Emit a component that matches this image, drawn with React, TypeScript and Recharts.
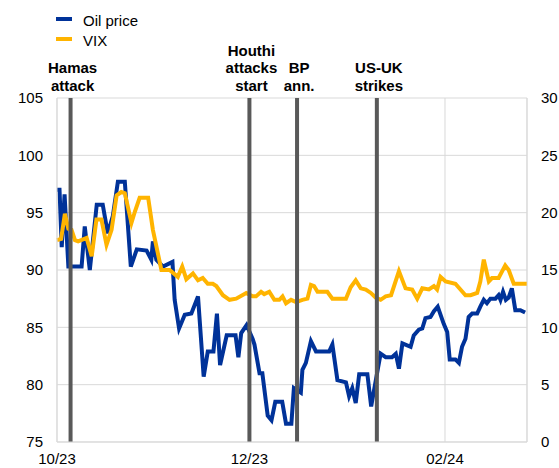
import React from 'react';
import {
  LineChart,
  Line,
  XAxis,
  YAxis,
  CartesianGrid,
  ReferenceLine,
} from 'recharts';

// x values are calendar days counted from 3 Oct 2023 (first date on the axis)
const oilDays = [
  0, 0.8, 1.5, 2.4, 3.6, 7.8, 8.8, 10.4, 12.6, 14.5,
  16.1, 17.7, 19.3, 21.5, 23.4, 25.3, 28.4, 29.9, 30.4, 31.5,
  33.6, 36.6, 37.3, 38.7, 40.5, 42.6, 44.7, 46.5, 47.8, 49.6,
  50.7, 51.7, 53.8, 56.6, 57.5, 58.4, 60.1, 62.0, 62.6, 64.2,
  65.1, 66.8, 68.0, 69.2, 71.4, 72.6, 74.3, 75.1, 77.3, 77.8,
  78.9, 80.5, 82.1, 86.3, 87.3, 88.9, 91.6, 92.6, 93.6, 94.7,
  95.8, 98.4, 99.6, 101.8, 102.6, 104.2, 106.2, 107.4, 108.4, 109.5,
  112.1, 113.1, 114.7, 115.8, 116.8, 118.4, 119.5, 120.7, 122.6, 123.7,
  124.5, 126.3, 127.4, 128.4, 129.5, 130.5, 131.6, 133.2, 134.2, 135.3,
  136.3, 137.4, 139.0, 140.0, 140.6, 141.4, 142.3, 143.2, 144.2, 145.3,
  146.9, 148.4,
];
const oilPrice = [
  97.0, 97.0, 92.0, 96.6, 90.3, 90.3, 93.8, 90.0, 95.7, 95.7,
  93.2, 94.7, 97.7, 97.7, 90.3, 91.8, 91.7, 90.9, 92.5, 90.9,
  90.3, 90.7, 87.4, 84.9, 86.1, 86.2, 87.7, 80.7, 82.9, 82.9,
  86.2, 81.7, 84.3, 84.3, 82.4, 84.5, 85.2, 84.0, 83.5, 81.0,
  81.0, 77.3, 76.9, 78.5, 78.5, 76.6, 76.6, 79.7, 79.3, 81.3,
  81.9, 83.8, 82.9, 82.9, 83.5, 80.4, 80.2, 79.0, 79.7, 78.4,
  80.9, 80.9, 78.1, 81.5, 82.7, 82.4, 82.4, 82.7, 81.4, 83.6,
  83.3, 84.3, 84.8, 84.9, 85.8, 85.9, 86.4, 86.8, 85.3, 84.6,
  82.2, 82.2, 81.9, 83.3, 84.0, 85.9, 86.2, 86.2, 86.8, 87.4,
  87.1, 87.5, 87.5, 87.8, 87.4, 88.1, 87.4, 87.6, 88.4, 86.5,
  86.5, 86.3,
];

const vixDays = [
  0, 1.3, 2.5, 3.6, 4.6, 5.7, 6.7, 9.4, 11.0, 12.5,
  14.1, 15.7, 17.3, 18.9, 20.4, 21.5, 23.6, 24.7, 26.2, 28.9,
  30.4, 33.1, 35.7, 38.3, 39.7, 41.0, 43.1, 44.7, 46.2, 47.8,
  49.4, 50.5, 52.6, 54.7, 56.8, 60.0, 62.0, 63.1, 64.7, 65.7,
  67.3, 68.9, 70.5, 71.5, 72.6, 74.2, 75.8, 77.8, 79.4, 80.5,
  81.5, 82.6, 85.7, 87.3, 91.6, 93.1, 94.7, 96.3, 97.9, 99.5,
  101.0, 102.6, 104.2, 105.9, 108.4, 110.5, 112.6, 114.2, 115.8, 117.9,
  119.5, 120.5, 121.6, 123.2, 126.3, 127.9, 129.5, 131.1, 133.2, 134.2,
  135.3, 136.9, 137.9, 140.0, 142.1, 143.2, 144.8, 148.9,
];
const vix = [
  17.6, 17.7, 19.9, 18.6, 18.5, 17.6, 17.5, 17.8, 16.2, 19.4,
  19.4, 17.2, 18.5, 21.5, 21.8, 21.7, 19.1, 20.1, 21.3, 21.3,
  18.5, 15.0, 15.0, 14.4, 15.3, 14.2, 14.7, 14.1, 14.3, 13.8,
  13.8, 13.6, 12.8, 12.4, 12.5, 13.0, 12.7, 12.7, 13.1, 12.9,
  13.1, 12.4, 12.4, 12.7, 12.1, 12.4, 12.2, 12.4, 12.5, 13.7,
  13.6, 13.1, 13.1, 12.5, 12.5, 13.5, 14.1, 13.4, 13.3, 13.0,
  12.6, 12.4, 12.7, 12.8, 14.9, 13.4, 13.3, 12.5, 13.4, 13.3,
  13.6, 13.3, 14.4, 14.0, 13.8, 13.3, 12.8, 12.8, 13.0, 14.0,
  15.9, 14.0, 14.3, 14.3, 15.4, 15.0, 13.8, 13.8,
];

const xTicks = [0, 61, 123];
const xTickLabels = ['10/23', '12/23', '02/24'];
const leftTicks = [75, 80, 85, 90, 95, 100, 105];
const rightTicks = [0, 5, 10, 15, 20, 25, 30];

const eventDays = [4.3, 61, 76.1, 101.4];
const eventLabels = [
  ['Hamas', 'attack'],
  ['Houthi', 'attacks', 'start'],
  ['BP', 'ann.'],
  ['US-UK', 'strikes'],
];

const OIL = '#003299';
const VIX = '#ffb400';
const GRID = '#d9d9d9';
const FONT = 'Arial, "Liberation Sans", sans-serif';

const oilData = oilDays.map((d, i) => ({ day: d, oil: oilPrice[i] }));
const vixData = vixDays.map((d, i) => ({ day: d, vix: vix[i] }));

function EventLabel({ viewBox, lines }: any) {
  const x = viewBox.x + 2;
  const top = viewBox.y;
  return (
    <text
      x={x}
      textAnchor="middle"
      fontFamily={FONT}
      fontSize={15}
      fontWeight="bold"
      fill="#000"
    >
      {lines.map((t: string, i: number) => (
        <tspan key={t} x={x} y={top - 7.5 - 17.5 * (lines.length - 1 - i)}>
          {t}
        </tspan>
      ))}
    </text>
  );
}

function LegendBox() {
  const items = [
    { name: 'Oil price', color: OIL },
    { name: 'VIX', color: VIX },
  ];
  return (
    <div style={{ position: 'absolute', left: 56, top: 10, fontFamily: FONT, fontSize: 15 }}>
      {items.map((it) => (
        <div key={it.name} style={{ display: 'flex', alignItems: 'center', height: 20 }}>
          <span
            style={{
              display: 'inline-block',
              width: 16,
              height: 4,
              background: it.color,
              marginRight: 11,
              marginTop: -3,
            }}
          />
          <span>{it.name}</span>
        </div>
      ))}
    </div>
  );
}

export default function App() {
  const tick = { fill: '#000', fontSize: 15, fontFamily: FONT };
  return (
    <div style={{ position: 'absolute', left: 0, top: 0, width: 559, height: 468, background: '#fff' }}>
      <LineChart
        width={559}
        height={468}
        margin={{ top: 98, right: 0, bottom: 0, left: 0 }}
      >
        <CartesianGrid yAxisId="left" stroke={GRID} strokeWidth={1} />
        <XAxis
          dataKey="day"
          type="number"
          domain={[0, 149]}
          ticks={xTicks}
          tickFormatter={(v: number) => xTickLabels[xTicks.indexOf(v)]}
          allowDuplicatedCategory={false}
          height={26}
          tickSize={0}
          tickMargin={11}
          tick={tick}
          axisLine={{ stroke: GRID }}
          tickLine={false}
        />
        <YAxis
          yAxisId="left"
          orientation="left"
          domain={[75, 105]}
          ticks={leftTicks}
          width={57}
          tickSize={0}
          tickMargin={14}
          tick={tick}
          axisLine={{ stroke: GRID }}
          tickLine={false}
        />
        <YAxis
          yAxisId="right"
          orientation="right"
          domain={[0, 30]}
          ticks={rightTicks}
          width={32}
          tickSize={0}
          tickMargin={14}
          tick={{ ...tick, textAnchor: 'start' }}
          axisLine={false}
          tickLine={false}
        />
        <ReferenceLine yAxisId="left" x={149} stroke={GRID} strokeWidth={1} />
        <Line
          yAxisId="left"
          data={oilData}
          dataKey="oil"
          type="linear"
          stroke={OIL}
          strokeWidth={4}
          dot={false}
          isAnimationActive={false}
        />
        <Line
          yAxisId="right"
          data={vixData}
          dataKey="vix"
          type="linear"
          stroke={VIX}
          strokeWidth={4}
          dot={false}
          isAnimationActive={false}
        />
        {eventDays.map((d, i) => (
          <ReferenceLine
            key={d}
            yAxisId="left"
            x={d}
            stroke="#595959"
            strokeWidth={4}
            label={(p: any) => <EventLabel {...p} lines={eventLabels[i]} />}
          />
        ))}
      </LineChart>
      <LegendBox />
    </div>
  );
}
